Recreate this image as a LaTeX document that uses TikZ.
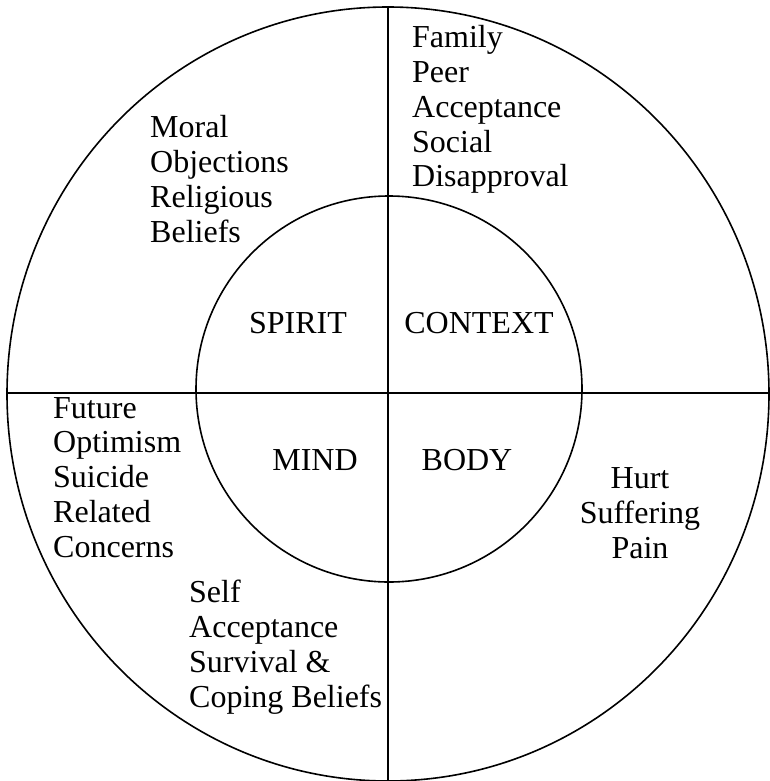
\documentclass[tikz,border=0pt]{standalone}
\usepackage{fontspec}
\setmainfont{Liberation Serif}
\begin{document}
\begin{tikzpicture}[x=1pt,y=-1pt,
  rule/.style={line width=1.6pt, black},
  lbl/.style={inner sep=0pt, font=\fontsize{32}{35}\selectfont}]
\useasboundingbox (0,0) rectangle (769,781);

% outer ring and the two dividing lines
\coordinate (o) at (388,394);
\coordinate (top) at (388,7);
\coordinate (bot) at (388,781);
\coordinate (lft) at (7,393);
\coordinate (rgt) at (769,393);
\draw[rule] (o) ellipse [x radius=381, y radius=387];
\draw[rule] (top) -- (bot);
\draw[rule] (lft) -- (rgt);

% inner circle
\node[rule, draw, circle, minimum size=386pt, inner sep=0pt] (core) at (389,389) {};

% quadrant names
\node[lbl, anchor=base] (spirit)  at (298,333) {SPIRIT};
\node[lbl, anchor=base] (context) at (479,333) {CONTEXT};
\node[lbl, anchor=base] (mind)    at (315,470) {MIND};
\node[lbl, anchor=base] (body)    at (467,470) {BODY};

% outer ring entries
\foreach \t [count=\i from 0] in {Family,Peer,Acceptance,Social,Disapproval}
  \node[lbl, anchor=base west] (ctx\i) at (412,47.6+34.8*\i) {\t};
\foreach \t [count=\i from 0] in {Moral,Objections,Religious,Beliefs}
  \node[lbl, anchor=base west] (spr\i) at (150,138+34.9*\i) {\t};
\foreach \t [count=\i from 0] in {Future,Optimism,Suicide,Related,Concerns}
  \node[lbl, anchor=base west] (mnd\i) at (53,418+34.9*\i) {\t};
\foreach \t [count=\i from 0] in {Self,Acceptance,Survival \&,Coping Beliefs}
  \node[lbl, anchor=base west] (slf\i) at (189,602+35.2*\i) {\t};
\foreach \t [count=\i from 0] in {Hurt,Suffering,Pain}
  \node[lbl, anchor=base] (bdy\i) at (640,488+35*\i) {\t};
\end{tikzpicture}
\end{document}
